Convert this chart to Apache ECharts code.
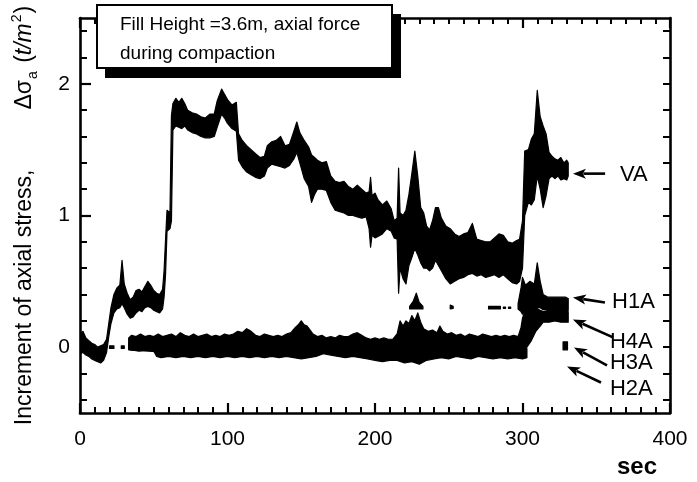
<!DOCTYPE html>
<html>
<head>
<meta charset="utf-8">
<script src="https://cdn.jsdelivr.net/npm/echarts@6/dist/echarts.min.js"></script>
<style>
  html, body { margin: 0; padding: 0; background: #fff; }
  #chart { width: 697px; height: 482px; }
</style>
</head>
<body>
<div id="chart"></div>
<script>
// Axis ticks
const xTicks = [0, 100, 200, 300, 400];
const yTicks = [0, 1, 2];
const yMinorTicks = [-0.4, -0.2, 0.2, 0.4, 0.6, 0.8, 1.2, 1.4, 1.6, 1.8, 2.2, 2.4];

// Recorded stress bands: [time (s), lower, upper] in t/m^2.
// Each sensor is a list of continuous segments.
const vaBand = [[
  [0,-0.05,0.1],[2,-0.04,0.12],[4,-0.06,0.07],[6,-0.07,0.05],[8,-0.09,0.03],[10,-0.1,0.02],
  [12,-0.11,0.0],[14,-0.12,0.01],[16,-0.1,0.02],[18,-0.04,0.06],[19.5,0.08,0.18],[21,0.18,0.3],
  [23,0.26,0.4],[25,0.29,0.45],[27,0.3,0.47],[28.5,0.33,0.66],[30,0.3,0.48],[32,0.25,0.41],
  [34,0.22,0.36],[36,0.23,0.38],[38,0.26,0.43],[40,0.28,0.44],[42,0.27,0.42],[44,0.3,0.46],
  [46,0.31,0.5],[48,0.3,0.47],[50,0.28,0.43],[52,0.27,0.41],[54,0.26,0.4],[56,0.29,0.44],
  [57,0.38,0.58],[58,0.55,0.82],[59,0.88,1.04],[61,0.9,1.02],[62,0.96,1.76],[63,1.65,1.85],
  [65,1.68,1.89],[67,1.67,1.86],[69,1.66,1.89],[71,1.68,1.85],[73,1.65,1.8],[76,1.63,1.78],
  [79,1.62,1.77],[82,1.6,1.75],[85,1.59,1.74],[88,1.59,1.77],[91,1.6,1.77],[93,1.67,1.87],
  [96,1.77,1.96],[98,1.74,1.92],[100,1.7,1.88],[103,1.66,1.84],[106,1.64,1.86],[107.5,1.42,1.62],
  [110,1.37,1.57],[113,1.33,1.53],[116,1.31,1.5],[119,1.29,1.47],[122,1.28,1.44],[125,1.3,1.45],
  [127,1.36,1.53],[130,1.39,1.56],[133,1.38,1.57],[136,1.37,1.6],[139,1.36,1.53],[142,1.38,1.54],
  [145,1.43,1.64],[147,1.48,1.71],[149,1.4,1.63],[152,1.28,1.57],[155,1.22,1.52],[157,1.1,1.46],
  [159,1.16,1.44],[161,1.2,1.42],[164,1.2,1.4],[167,1.19,1.41],[170,1.1,1.3],[173,1.04,1.26],
  [176,1.03,1.25],[179,1.02,1.26],[182,1.0,1.22],[185,1.0,1.2],[188,0.99,1.23],[191,0.98,1.2],
  [194,0.99,1.17],[196,0.9,1.18],[197,0.76,1.29],[198,0.85,1.15],[200,0.83,1.17],[202,0.84,1.12],
  [205,0.86,1.08],[208,0.9,1.11],[211,0.88,1.05],[213,0.83,0.96],[215,0.82,0.98],[216,0.41,1.36],
  [217,0.6,1.02],[219,0.52,1.0],[221,0.48,1.04],[223,0.62,1.16],[225,0.68,1.32],[227,0.75,1.49],
  [229,0.7,1.3],[231,0.64,1.06],[233,0.6,1.02],[235,0.6,0.92],[237,0.58,0.89],[239,0.6,0.96],
  [241,0.66,1.06],[243,0.62,1.06],[245,0.58,0.98],[248,0.52,0.92],[251,0.48,0.9],[254,0.5,0.86],
  [257,0.52,0.84],[260,0.53,0.86],[263,0.55,0.87],[266,0.56,0.94],[269,0.54,0.82],[272,0.55,0.81],
  [275,0.53,0.8],[278,0.54,0.8],[281,0.55,0.83],[284,0.53,0.86],[287,0.55,0.85],[290,0.52,0.8],
  [293,0.49,0.79],[296,0.48,0.81],[298,0.5,0.82],[300,0.6,0.96],[301.5,1.0,1.49],[304,1.1,1.5],
  [306,1.08,1.58],[308,1.12,1.62],[310,1.3,1.95],[312,1.2,1.75],[314,1.06,1.68],[316,1.15,1.62],
  [318,1.28,1.48],[320,1.3,1.45],[322,1.28,1.43],[324,1.3,1.42],[326,1.27,1.44],[328,1.28,1.4],
  [330,1.27,1.42],[331,1.3,1.4]
]];

const h1aBand = [
  [[20,-0.01,0.01],[23,-0.01,0.01]],
  [[28,-0.01,0.01],[30,-0.01,0.01]],
  [[34,-0.02,0.05],[100,-0.02,0.05],[160,-0.02,0.05],[221,-0.02,0.05]],
  [[223.5,0.29,0.31],[226,0.29,0.35],[228,0.29,0.41],[230,0.29,0.34],[232.5,0.29,0.31]],
  [[251,0.29,0.32],[253,0.295,0.31]],
  [[277,0.29,0.31],[285,0.29,0.31]],
  [[287,0.295,0.305],[288.5,0.295,0.305]],
  [[290.5,0.295,0.305],[292,0.295,0.305]],
  [[297,0.29,0.33],[299,0.27,0.45],[300,0.25,0.53],[302,0.28,0.47],[305,0.3,0.5],[308,0.28,0.48],
   [310,0.3,0.64],[312,0.3,0.5],[314,0.285,0.4],[317,0.28,0.38],[321,0.28,0.38],[325,0.28,0.38],
   [329,0.28,0.38],[331,0.28,0.37]]
];

const h2aBand = [[
  [33,-0.01,0.01],[35,-0.02,0.0],[40,-0.03,0.0],[45,-0.02,0.0],[50,-0.03,0.0],[52,-0.07,0.0],
  [55,-0.08,0.0],[60,-0.07,0.0],[65,-0.08,0.0],[70,-0.07,0.0],[75,-0.08,0.0],[80,-0.07,0.0],
  [85,-0.08,0.0],[90,-0.07,0.0],[95,-0.08,0.0],[100,-0.07,0.0],[105,-0.08,0.0],[110,-0.07,0.0],
  [115,-0.08,0.0],[120,-0.07,0.0],[125,-0.08,0.0],[130,-0.07,0.0],[135,-0.08,0.0],[140,-0.07,0.0],
  [145,-0.08,0.0],[150,-0.09,0.0],[155,-0.08,0.0],[160,-0.07,0.0],[165,-0.05,0.0],[170,-0.06,0.0],
  [175,-0.07,0.0],[180,-0.08,0.0],[185,-0.07,0.0],[190,-0.08,0.0],[195,-0.09,0.0],[200,-0.1,0.0],
  [205,-0.11,0.0],[210,-0.1,0.0],[215,-0.1,0.0],[220,-0.12,0.0],[225,-0.11,0.0],[230,-0.13,0.0],
  [235,-0.1,0.0],[240,-0.09,0.0],[245,-0.08,0.0],[250,-0.09,0.0],[255,-0.07,0.0],[260,-0.08,0.0],
  [265,-0.09,0.0],[270,-0.07,0.0],[275,-0.08,0.0],[280,-0.09,0.0],[285,-0.08,0.0],[290,-0.09,0.0],
  [295,-0.08,0.0],[300,-0.09,0.0],[303,-0.08,-0.01]
]];

const h3aBand = [
  [[33,-0.02,0.03],[60,-0.04,0.04],[120,-0.04,0.04],[180,-0.04,0.04],[240,-0.04,0.04],[302,-0.04,0.04]],
  [[327.5,-0.02,0.04],[330.5,-0.02,0.04]]
];

const h4aBand = [[
  [33,0.0,0.07],[35,0.02,0.09],[38,0.02,0.08],[41,0.02,0.1],[44,0.02,0.08],[47,0.02,0.09],
  [50,0.02,0.08],[53,0.02,0.1],[56,0.02,0.08],[59,0.02,0.09],[62,0.02,0.1],[65,0.02,0.08],
  [68,0.02,0.11],[71,0.02,0.09],[74,0.02,0.08],[77,0.02,0.1],[80,0.02,0.08],[83,0.02,0.09],
  [86,0.02,0.1],[89,0.02,0.08],[92,0.02,0.09],[95,0.02,0.08],[98,0.02,0.1],[101,0.02,0.09],
  [104,0.02,0.1],[107,0.02,0.12],[110,0.02,0.11],[113,0.02,0.14],[116,0.02,0.12],[119,0.02,0.09],
  [122,0.02,0.08],[125,0.02,0.1],[128,0.02,0.09],[131,0.02,0.08],[134,0.02,0.09],[137,0.02,0.08],
  [140,0.02,0.1],[143,0.02,0.11],[146,0.02,0.15],[148,0.02,0.17],[150,0.02,0.2],[152,0.02,0.17],
  [154,0.02,0.16],[156,0.02,0.13],[158,0.02,0.1],[161,0.02,0.08],[164,0.02,0.09],[167,0.02,0.07],
  [170,0.02,0.08],[173,0.02,0.07],[176,0.02,0.09],[179,0.02,0.08],[182,0.02,0.08],[185,0.02,0.1],
  [188,0.02,0.11],[191,0.02,0.09],[194,0.02,0.07],[197,0.02,0.06],[200,0.02,0.07],[203,0.02,0.06],
  [206,0.02,0.07],[209,0.02,0.06],[212,0.02,0.06],[215,0.02,0.1],[217,0.02,0.2],[219,0.02,0.16],
  [221,0.02,0.2],[223,0.02,0.18],[225,0.02,0.24],[227,0.02,0.2],[229,0.02,0.26],[231,0.02,0.19],
  [233,0.02,0.14],[236,0.02,0.12],[239,0.02,0.13],[242,0.02,0.11],[244,0.02,0.16],[246,0.02,0.12],
  [249,0.02,0.1],[252,0.02,0.11],[255,0.02,0.09],[258,0.02,0.1],[261,0.02,0.08],[264,0.02,0.1],
  [267,0.02,0.09],[270,0.02,0.08],[273,0.02,0.1],[276,0.02,0.09],[279,0.02,0.08],[282,0.02,0.09],
  [285,0.02,0.08],[288,0.02,0.09],[291,0.02,0.08],[294,0.02,0.09],[297,0.02,0.08],[299,0.0,0.15],
  [300,-0.05,0.22],[303,0.0,0.32],[306,0.05,0.3],[309,0.12,0.3],[312,0.16,0.28],[314,0.19,0.27],
  [318,0.19,0.27],[322,0.2,0.27],[326,0.19,0.27],[331,0.19,0.27]
]];

// Curve labels with their arrows, in data units
const curveLabels = [
  { text: 'VA',  at: [366.1, 1.311],  head: [334.2, 1.318],  tail: [356.0, 1.318] },
  { text: 'H1A', at: [360.7, 0.347],  head: [334.2, 0.377],  tail: [355.9, 0.339] },
  { text: 'H4A', at: [359.3, 0.036],  head: [334.2, 0.210],  tail: [361.4, 0.074] },
  { text: 'H3A', at: [359.3, -0.116], head: [334.9, -0.002], tail: [357.3, -0.139] },
  { text: 'H2A', at: [359.3, -0.314], head: [330.2, -0.147], tail: [353.2, -0.268] }
];

const FONT = '"Liberation Sans", Arial, Helvetica, sans-serif';
const INK = '#000';

function bandSeries(name, segments) {
  return segments.map(function (seg) {
    return {
      type: 'custom',
      name: name,
      clip: true,
      data: seg,
      encode: { x: 0, y: [1, 2] },
      silent: true,
      renderItem: function (params, api) {
        if (params.dataIndex !== 0) return;
        const upper = seg.map(function (p) { return api.coord([p[0], p[2]]); });
        const lower = seg.map(function (p) { return api.coord([p[0], p[1]]); }).reverse();
        return {
          type: 'polygon',
          shape: { points: upper.concat(lower) },
          style: { fill: INK, stroke: INK, lineWidth: 1.2, lineJoin: 'round' }
        };
      }
    };
  });
}

const axisLine = { show: true, onZero: false, lineStyle: { color: INK, width: 2.6 } };

const chart = echarts.init(document.getElementById('chart'), null, { renderer: 'canvas' });

const option = {
  backgroundColor: '#fff',
  animation: false,
  grid: { left: 80, right: 27, top: 18, bottom: 69, containLabel: false },
  xAxis: [
    {
      type: 'value', position: 'bottom', min: 0, max: 400, interval: 100,
      axisLine: axisLine,
      axisTick: { show: true, inside: true, length: 10, lineStyle: { color: INK, width: 2.2 } },
      minorTick: { show: true, splitNumber: 10, length: 6, lineStyle: { color: INK, width: 2 } },
      splitLine: { show: false },
      axisLabel: { show: true, margin: 16, fontSize: 21, fontFamily: FONT, color: INK,
        customValues: xTicks }
    },
    {
      type: 'value', position: 'top', min: 0, max: 400, interval: 100,
      axisLine: axisLine,
      axisTick: { show: true, inside: true, length: 10, lineStyle: { color: INK, width: 2.2 } },
      minorTick: { show: true, splitNumber: 10, length: 6, lineStyle: { color: INK, width: 2 } },
      splitLine: { show: false },
      axisLabel: { show: false }
    }
  ],
  yAxis: [
    {
      type: 'value', position: 'left', min: -0.5, max: 2.5,
      axisLine: axisLine,
      axisTick: { show: true, inside: true, length: 11, customValues: yTicks,
        lineStyle: { color: INK, width: 2.2 } },
      splitLine: { show: false },
      axisLabel: { show: true, margin: 10, fontSize: 21, fontFamily: FONT, color: INK,
        customValues: yTicks },
      name: '{t|Increment of axial stress,}{gap|}{t|Δσ}{sub|a}{t| (}{it|t/m}{sup|2}{t|)}',
      nameLocation: 'middle',
      nameRotate: 90,
      nameGap: 40,
      nameTextStyle: {
        color: INK,
        fontFamily: FONT,
        rich: {
          t: { fontSize: 23, fontFamily: FONT, color: INK, lineHeight: 30 },
          it: { fontSize: 23, fontFamily: FONT, color: INK, fontStyle: 'italic', lineHeight: 30 },
          gap: { width: 60, lineHeight: 30 },
          sub: { fontSize: 14, fontFamily: FONT, color: INK, verticalAlign: 'bottom', lineHeight: 30, padding: [0, 2, 0, 1] },
          sup: { fontSize: 14, fontFamily: FONT, color: INK, verticalAlign: 'top', lineHeight: 30, padding: [0, 1, 0, 1] }
        }
      }
    },
    {
      type: 'value', position: 'left', min: -0.5, max: 2.5,
      axisLine: { show: false, onZero: false },
      axisTick: { show: true, inside: true, length: 7, customValues: yMinorTicks,
        lineStyle: { color: INK, width: 2 } },
      splitLine: { show: false },
      axisLabel: { show: false }
    },
    {
      type: 'value', position: 'right', min: -0.5, max: 2.5,
      axisLine: axisLine,
      axisTick: { show: true, inside: true, length: 7, customValues: yTicks.concat(yMinorTicks),
        lineStyle: { color: INK, width: 2 } },
      splitLine: { show: false },
      axisLabel: { show: false }
    }
  ],
  series: [].concat(
    bandSeries('H2A', h2aBand),
    bandSeries('H3A', h3aBand),
    bandSeries('H4A', h4aBand),
    bandSeries('H1A', h1aBand),
    bandSeries('VA', vaBand)
  )
};

chart.setOption(option);

// Annotation layer: caption box, x-axis title, curve labels with arrows
function px(p) { return chart.convertToPixel({ xAxisIndex: 0, yAxisIndex: 0 }, p); }

const graphics = [
  { type: 'rect', shape: { x: 105, y: 14, width: 296, height: 64 }, style: { fill: INK } , z: 100 },
  { type: 'rect', shape: { x: 97, y: 5, width: 295, height: 63 },
    style: { fill: '#fff', stroke: INK, lineWidth: 2 }, z: 101 },
  { type: 'text', x: 120, y: 25, z: 102,
    style: { text: 'Fill Height =3.6m, axial force', font: '19px ' + FONT, fill: INK, verticalAlign: 'middle' } },
  { type: 'text', x: 120, y: 54, z: 102,
    style: { text: 'during compaction', font: '19px ' + FONT, fill: INK, verticalAlign: 'middle' } },
  { type: 'text', x: 637, y: 467, z: 102,
    style: { text: 'sec', font: 'bold 24px ' + FONT, fill: INK, align: 'center', verticalAlign: 'middle' } }
];

curveLabels.forEach(function (c) {
  const at = px(c.at), h = px(c.head), t = px(c.tail);
  const dx = t[0] - h[0], dy = t[1] - h[1];
  const len = Math.sqrt(dx * dx + dy * dy);
  const ux = dx / len, uy = dy / len, nx = -uy, ny = ux;
  const hl = 13, hw = 5;
  graphics.push({
    type: 'line', z: 102,
    shape: { x1: t[0], y1: t[1], x2: h[0] + ux * hl * 0.8, y2: h[1] + uy * hl * 0.8 },
    style: { stroke: INK, lineWidth: 2.6 }
  });
  graphics.push({
    type: 'polygon', z: 102,
    shape: { points: [[h[0], h[1]],
      [h[0] + ux * hl + nx * hw, h[1] + uy * hl + ny * hw],
      [h[0] + ux * hl * 0.75, h[1] + uy * hl * 0.75],
      [h[0] + ux * hl - nx * hw, h[1] + uy * hl - ny * hw]] },
    style: { fill: INK }
  });
  graphics.push({
    type: 'text', x: at[0], y: at[1], z: 102,
    style: { text: c.text, font: '22px ' + FONT, fill: INK, align: 'left', verticalAlign: 'middle' }
  });
});

chart.setOption({ graphic: graphics });
</script>
</body>
</html>
